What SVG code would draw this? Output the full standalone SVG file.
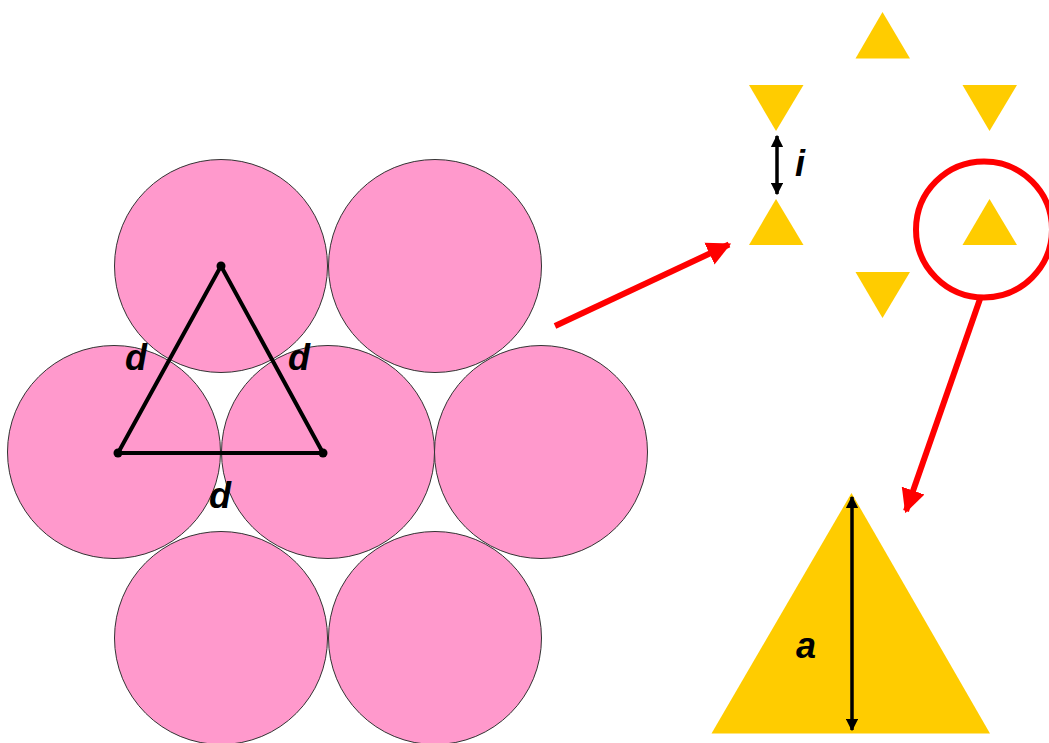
<svg xmlns="http://www.w3.org/2000/svg" width="1049" height="743" viewBox="0 0 1049 743">
<style>
.c{fill:#FF99CC;stroke:#333;stroke-width:1}
.y{fill:#FFCC00}
.lbl{font-family:"Liberation Sans",Arial,sans-serif;font-weight:bold;font-style:italic;font-size:36px;fill:#000}
.red{stroke:#FF0000;stroke-width:6;fill:none}
.blk{stroke:#000;stroke-width:3.5;fill:none}
</style>
<defs>
<marker id="rh" viewBox="0 0 10 10" refX="9" refY="5" markerWidth="4" markerHeight="4.4" orient="auto" markerUnits="strokeWidth">
<path d="M0,0 L10,5 L0,10 z" fill="#FF0000"/>
</marker>
<marker id="bh" viewBox="0 0 10 10" refX="9" refY="5" markerWidth="3.5" markerHeight="3.5" orient="auto-start-reverse" markerUnits="strokeWidth">
<path d="M0,0 L10,5 L0,10 z" fill="#000"/>
</marker>
</defs>
<rect width="1049" height="743" fill="#fff"/>
<g id="circles">
<circle class="c" cx="221" cy="266" r="106.5"/>
<circle class="c" cx="435" cy="266" r="106.5"/>
<circle class="c" cx="114" cy="452" r="106.5"/>
<circle class="c" cx="328" cy="452" r="106.5"/>
<circle class="c" cx="541" cy="452" r="106.5"/>
<circle class="c" cx="221" cy="638" r="106.5"/>
<circle class="c" cx="435" cy="638" r="106.5"/>
</g>
<g id="packing-triangle">
<polygon points="221,266 118,453 323,453" fill="none" stroke="#000" stroke-width="4" stroke-linejoin="round"/>
<circle cx="221" cy="266" r="4.5" fill="#000"/>
<circle cx="118" cy="453" r="4.5" fill="#000"/>
<circle cx="323" cy="453" r="4.5" fill="#000"/>
<text class="lbl" x="125" y="370">d</text>
<text class="lbl" x="288" y="370">d</text>
<text class="lbl" x="209" y="508">d</text>
</g>
<g id="small-triangles">
<polygon class="y" points="882.5,12 910,58.5 855.5,58.5"/>
<polygon class="y" points="749,85 803.5,85 776,131"/>
<polygon class="y" points="962.5,85 1017,85 989.5,131"/>
<polygon class="y" points="776,199 803.5,245 749,245"/>
<polygon class="y" points="989.5,199 1017,245 962.5,245"/>
<polygon class="y" points="855.5,272 910,272 882.5,318"/>
<line class="blk" x1="777" y1="136" x2="777" y2="194" stroke-width="3" marker-start="url(#bh)" marker-end="url(#bh)"/>
<text class="lbl" x="795" y="176">i</text>
</g>
<g id="highlight">
<circle class="red" cx="984" cy="229.5" r="68" stroke-width="5"/>
</g>
<g id="big-triangle">
<polygon class="y" points="851.5,493 990,733.5 711.5,733.5"/>
<line class="blk" x1="852" y1="497" x2="852" y2="730" stroke-width="3" marker-start="url(#bh)" marker-end="url(#bh)"/>
<text class="lbl" x="796" y="658">a</text>
</g>
<g id="connectors">
<line class="red" x1="555" y1="326" x2="729" y2="244.5" marker-end="url(#rh)"/>
<line class="red" x1="980" y1="299" x2="906" y2="511" marker-end="url(#rh)"/>
</g>
</svg>
